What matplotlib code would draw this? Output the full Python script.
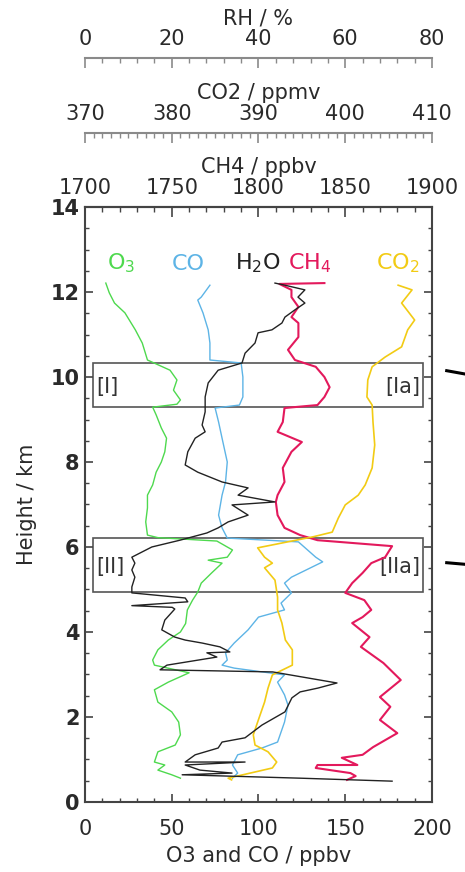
import matplotlib
matplotlib.use("Agg")
import matplotlib.pyplot as plt
from matplotlib.lines import Line2D
from matplotlib.patches import Rectangle
from matplotlib.ticker import MultipleLocator

plt.rcParams['font.family'] = ['DejaVu Sans']

# profiles, height in km
o3_height = [12.21, 11.98, 11.74, 11.51, 11.11, 10.80, 10.40, 10.16, 9.93, 9.69, 9.46, 9.36,
             9.29, 9.11, 8.80, 8.56, 8.24, 8.00, 7.76, 7.46, 7.22, 6.92, 6.59, 6.28, 6.22,
             6.14, 5.93, 5.76, 5.69, 5.62, 5.39, 5.15, 4.94, 4.75, 4.52, 4.20, 4.00, 3.81,
             3.58, 3.34, 3.22, 3.04, 2.82, 2.64, 2.35, 2.12, 1.88, 1.58, 1.34, 1.18, 0.94,
             0.87, 0.75, 0.64, 0.56]
o3_ppbv = [12, 14, 17, 23, 29, 33, 36, 49, 53, 51, 55, 53,
           39, 41, 44, 47, 46, 44, 41, 39, 36, 36, 35, 36, 42,
           76, 85, 82, 71, 79, 73, 67, 65, 62, 59, 58, 55, 48,
           42, 39, 40, 60, 48, 40, 42, 50, 54, 55, 52, 42, 40,
           46, 42, 50, 55]

co_height = [12.16, 11.88, 11.81, 11.51, 11.11, 10.80, 10.40, 10.33, 10.00, 9.53, 9.34, 9.27,
             8.94, 8.56, 8.00, 7.53, 7.22, 6.75, 6.45, 6.21, 6.12, 5.76, 5.65, 5.53, 5.29,
             5.15, 4.92, 4.68, 4.52, 4.35, 4.05, 3.74, 3.51, 3.34, 3.22, 3.15, 2.99, 2.82,
             2.52, 2.28, 1.88, 1.41, 1.27, 1.11, 0.87, 0.68, 0.56]
co_ppbv = [72, 67, 65, 68, 71, 72, 72, 90, 91, 91, 89, 75,
           77, 79, 82, 81, 79, 77, 79, 82, 123, 133, 137, 131, 119,
           115, 119, 113, 115, 100, 94, 86, 81, 82, 79, 86, 115, 111,
           115, 117, 115, 111, 102, 88, 85, 88, 85]

h2o_height = [12.21, 12.16, 12.05, 11.88, 11.74, 11.58, 11.41, 11.27, 11.11, 11.04, 10.80, 10.56,
              10.33, 10.16, 9.86, 9.53, 9.18, 8.87, 8.71, 8.56, 8.24, 7.93, 7.76, 7.53, 7.39,
              7.22, 7.06, 6.99, 6.75, 6.59, 6.45, 6.33, 6.16, 6.00, 5.76, 5.62, 5.46, 5.29,
              5.06, 4.92, 4.80, 4.71, 4.62, 4.58, 4.54, 4.28, 4.05, 3.88, 3.81, 3.74, 3.65,
              3.53, 3.51, 3.41, 3.22, 3.11, 3.06, 2.80, 2.68, 2.59, 2.45, 2.12, 1.81, 1.51,
              1.41, 1.27, 1.11, 0.94, 0.94, 0.87, 0.75, 0.68, 0.64, 0.56, 0.49]
h2o_rh = [43.8, 46.1, 50.7, 49.1, 50.7, 48.4, 46.1, 45.4, 43.1, 39.9, 39.2, 36.9,
          36.2, 30.7, 28.4, 27.7, 27.7, 27.0, 27.7, 25.4, 23.7, 23.1, 26.0, 31.6, 37.6,
          35.3, 43.8, 33.9, 37.6, 33.0, 30.7, 28.1, 21.9, 15.4, 10.8, 11.5, 10.8, 11.5,
          10.8, 10.8, 23.1, 23.7, 10.8, 20.1, 20.7, 18.4, 17.7, 20.7, 23.1, 27.0, 31.1,
          33.4, 28.1, 30.4, 18.9, 17.3, 43.3, 58.1, 53.7, 49.6, 47.7, 46.1, 40.8, 36.9,
          31.6, 30.7, 25.4, 23.1, 36.9, 23.1, 26.5, 33.9, 22.4, 49.6, 70.8]

ch4_height = [12.21, 12.19, 12.05, 11.88, 11.65, 11.41, 11.27, 10.94, 10.64, 10.40, 10.24, 10.00,
              9.76, 9.53, 9.34, 9.27, 8.94, 8.71, 8.47, 8.24, 7.86, 7.53, 7.22, 7.06, 6.75,
              6.45, 6.28, 6.16, 6.02, 5.76, 5.62, 5.39, 5.15, 4.92, 4.75, 4.52, 4.35, 4.21,
              3.88, 3.65, 3.27, 2.87, 2.47, 2.24, 1.93, 1.62, 1.29, 1.11, 1.04, 0.87, 0.87,
              0.80, 0.68, 0.61, 0.52]
ch4_ppbv = [1838, 1812, 1819, 1819, 1823, 1819, 1823, 1823, 1817, 1821, 1833, 1838,
            1841, 1838, 1834, 1815, 1814, 1811, 1825, 1819, 1814, 1815, 1811, 1810, 1811,
            1815, 1824, 1834, 1877, 1873, 1865, 1860, 1854, 1850, 1861, 1865, 1860, 1854,
            1864, 1859, 1872, 1882, 1870, 1876, 1870, 1880, 1866, 1860, 1848, 1857, 1834,
            1833, 1853, 1856, 1851]

co2_height = [12.16, 12.05, 11.74, 11.34, 11.11, 10.71, 10.47, 10.24, 9.93, 9.53, 9.34, 8.94,
              8.40, 7.86, 7.46, 7.22, 6.99, 6.68, 6.35, 6.24, 5.98, 5.76, 5.62, 5.51, 5.22,
              4.82, 4.52, 4.21, 3.81, 3.58, 3.22, 2.99, 2.68, 2.35, 1.88, 1.58, 1.34, 1.18,
              0.94, 0.80, 0.56, 0.52]
co2_ppmv = [406.1, 407.7, 406.5, 408.0, 407.2, 406.5, 404.6, 403.1, 402.6, 402.5, 403.1, 403.2,
            403.4, 403.1, 402.3, 401.5, 400.0, 399.2, 398.5, 396.3, 389.9, 390.7, 391.6, 390.7, 391.9,
            392.2, 392.2, 392.7, 393.1, 393.9, 393.9, 391.6, 391.1, 390.7, 389.9, 389.4, 389.6, 391.1,
            392.1, 391.6, 386.5, 386.9]

species = ['O$_3$', 'CO', 'H$_2$O', 'CH$_4$', 'CO$_2$']
species_x = [0.104, 0.297, 0.499, 0.648, 0.902]
colors = ['#4ed94e', '#5db4e6', '#222222', '#e3195c', '#f2cb14']

# layer boxes: (bottom, top) in km
layers = [(9.3, 10.33), (4.94, 6.21)]
layer_names = [('[I]', '[Ia]'), ('[II]', '[IIa]')]

fig = plt.figure(figsize=(4.65, 8.72), dpi=100)
ax = fig.add_axes([0.1828, 0.0803, 0.7462, 0.6823])
ax_ch4 = ax.twiny()
ax_co2 = ax.twiny()
ax_rh = ax.twiny()

frame = '#444444'
light = '#8a8a8a'
text_col = '#2a2a2a'

for lo, hi in layers:
    ax.add_patch(Rectangle((4.6, lo), 190.2, hi - lo, fill=False, ec='#555555', lw=1.2, zorder=1))
for (lo, hi), (left, right) in zip(layers, layer_names):
    mid = (lo + hi) / 2
    ax.text(6.5, mid - 0.05, left, fontsize=15, color='#333333', va='center', ha='left')
    ax.text(193.5, mid - 0.05, right, fontsize=15, color='#333333', va='center', ha='right')

ax.plot(o3_ppbv, o3_height, color=colors[0], lw=1.0)
ax.plot(co_ppbv, co_height, color=colors[1], lw=1.0)
ax_rh.plot(h2o_rh, h2o_height, color=colors[2], lw=1.0)
ax_ch4.plot(ch4_ppbv, ch4_height, color=colors[3], lw=1.5)
ax_co2.plot(co2_ppmv, co2_height, color=colors[4], lw=1.2)

for name, xpos, c in zip(species, species_x, colors):
    ax.text(xpos, 0.905, name, transform=ax.transAxes, color=c, fontsize=16,
            ha='center', va='center')

ax.set_xlim(0, 200)
ax.set_ylim(0, 14)
ax.xaxis.set_major_locator(MultipleLocator(50))
ax.xaxis.set_minor_locator(MultipleLocator(10))
ax.yaxis.set_major_locator(MultipleLocator(2))
ax.yaxis.set_minor_locator(MultipleLocator(0.5))
ax.tick_params(which='both', direction='in', top=False, right=True, colors=frame,
               labelcolor=text_col, labelsize=15)
ax.tick_params(axis='x', pad=12)
ax.tick_params(axis='y', pad=4)
ax.tick_params(which='major', length=6, width=1.2)
ax.tick_params(which='minor', length=3, width=1.0)
for lab in ax.get_yticklabels():
    lab.set_fontweight('bold')
ax.set_xlabel('O3 and CO / ppbv', fontsize=15, color=text_col, labelpad=5)
ax.set_ylabel('Height / km', fontsize=15, color=text_col, labelpad=10)
for s in ax.spines.values():
    s.set_color(frame)
    s.set_linewidth(1.5)

top_axes = [
    (ax_ch4, (1700, 1900), 50, 10, 'CH4 / ppbv', 1.0, frame),
    (ax_co2, (370, 410), 10, 1, 'CO2 / ppmv', 1.1244, light),
    (ax_rh, (0, 80), 20, 4, 'RH / %', 1.2504, light),
]
for tax, lim, major, minor, label, pos, col in top_axes:
    tax.set_xlim(*lim)
    tax.patch.set_visible(False)
    for side in ('left', 'right', 'bottom'):
        tax.spines[side].set_visible(False)
    tax.spines['top'].set_position(('axes', pos))
    tax.spines['top'].set_color(col)
    tax.spines['top'].set_linewidth(1.5)
    tax.xaxis.set_major_locator(MultipleLocator(major))
    tax.xaxis.set_minor_locator(MultipleLocator(minor))
    tax.tick_params(which='both', direction='in', colors=col, labelcolor=text_col,
                    labelsize=15, pad=6.5)
    tax.tick_params(which='major', length=7, width=1.2)
    tax.tick_params(which='minor', length=3.5, width=1.0)
    tax.set_xlabel(label, fontsize=15, color=text_col, labelpad=3.5)

# leader marks pointing to the two layers
for y0, y1 in [(370.7, 374.0), (562.7, 564.3)]:
    fig.add_artist(Line2D([446.7 / 465, 1.0], [1 - y0 / 872, 1 - y1 / 872],
                          color='black', lw=2.2, transform=fig.transFigure))

fig.savefig('out.png', dpi=100)
